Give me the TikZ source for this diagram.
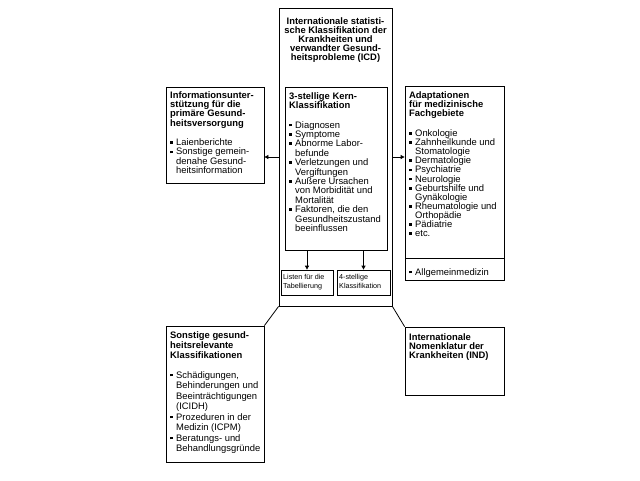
\documentclass[tikz,border=0pt]{standalone}
\usepackage{fontspec}
\setmainfont{Liberation Sans}
\usetikzlibrary{arrows.meta,positioning,calc}

\newcommand{\bitem}{\makebox[6pt][l]{\rule[1.6pt]{2.8pt}{2.8pt}}}
\newcommand{\bcont}{\hspace*{6pt}}

\tikzset{
  frame/.style={draw, line width=0.8pt, inner sep=0pt},
  head/.style={font=\fontsize{9.4}{9.2}\selectfont\bfseries, align=left, anchor=north west, inner sep=0pt},
  body/.style={font=\fontsize{9.4}{9.4}\selectfont, align=left, anchor=north west, inner sep=0pt},
  small/.style={font=\fontsize{7.2}{9}\selectfont, align=left, anchor=north west, inner sep=0pt},
  link/.style={line width=0.8pt, -{Triangle[length=4pt,width=4pt]}},
  plain/.style={line width=0.8pt},
}

\begin{document}
\begin{tikzpicture}[x=1pt, y=-1pt]
    \useasboundingbox (0,0) rectangle (640,480);

    % frames
    \node[frame, minimum width=113pt, minimum height=298pt] (icd) at (335.5,157) {};
    \node[frame, minimum width=102pt, minimum height=163pt] (kern) at (336,168.5) {};
    \node[frame, minimum width=52pt, minimum height=25pt] (liste) at (307,282.5) {};
    \node[frame, minimum width=53pt, minimum height=25pt] (vier) at (363.5,282.5) {};
    \node[frame, minimum width=98pt, minimum height=96pt] (info) at (215,135) {};
    \node[frame, minimum width=99pt, minimum height=194pt] (adapt) at (454.5,183) {};
    \node[frame, minimum width=98pt, minimum height=136pt] (sonst) at (215,394) {};
    \node[frame, minimum width=99pt, minimum height=68pt] (ind) at (454.5,361) {};
    \draw[plain] (405,258) -- (504,258);

    % ICD
    \node[head, align=center, anchor=north] (icdtitle) at (335.5,17)
        {Internationale statisti-\\sche Klassifikation der\\Krankheiten und\\verwandter Gesund-\\heitsprobleme (ICD)};
    \node[head] (kerntitle) at (289,92) {3-stellige Kern-\\Klassifikation};
    \node[body] (kernlist) at (289,121)
        {\bitem Diagnosen\\
         \bitem Symptome\\
         \bitem Abnorme Labor-\\
         \bcont befunde\\
         \bitem Verletzungen und\\
         \bcont Vergiftungen\\
         \bitem Außere Ursachen\\
         \bcont von Morbidität und\\
         \bcont Mortalität\\
         \bitem Faktoren, die den\\
         \bcont Gesundheitszustand\\
         \bcont beeinflussen};
    \node[small] (listetext) at (283,274) {Listen für die\\Tabellierung};
    \node[small] (viertext) at (339,274) {4-stellige\\Klassifikation};

    % left
    \node[head] (infotitle) at (170,91.5)
        {Informationsunter-\\stützung für die\\primäre Gesund-\\heitsversorgung};
    \node[body] (infolist) at (170,138.5)
        {\bitem Laienberichte\\
         \bitem Sonstige gemein-\\
         \bcont denahe Gesund-\\
         \bcont heitsinformation};

    % right
    \node[head] (adapttitle) at (409,91.5)
        {Adaptationen\\für medizinische\\Fachgebiete};
    \node[body, font=\fontsize{9.4}{9.1}\selectfont] (adaptlist) at (409,129.5)
        {\bitem Onkologie\\
         \bitem Zahnheilkunde und\\
         \bcont Stomatologie\\
         \bitem Dermatologie\\
         \bitem Psychiatrie\\
         \bitem Neurologie\\
         \bitem Geburtshilfe und\\
         \bcont Gynäkologie\\
         \bitem Rheumatologie und\\
         \bcont Orthopädie\\
         \bitem Pädiatrie\\
         \bitem etc.};
    \node[body] (allg) at (409,268) {\bitem Allgemeinmedizin};

    % bottom
    \node[head, font=\fontsize{9.4}{9.8}\selectfont\bfseries] (sonsttitle) at (170,331.5)
        {Sonstige gesund-\\heitsrelevante\\Klassifikationen};
    \node[body, font=\fontsize{9.4}{10.5}\selectfont] (sonstlist) at (170,371)
        {\bitem Schädigungen,\\
         \bcont Behinderungen und\\
         \bcont Beeinträchtigungen\\
         \bcont (ICIDH)\\
         \bitem Prozeduren in der\\
         \bcont Medizin (ICPM)\\
         \bitem Beratungs- und\\
         \bcont Behandlungsgründe};
    \node[head] (indtitle) at (409,333.5)
        {Internationale\\Nomenklatur der\\Krankheiten (IND)};

    % connectors
    \draw[link] (icd.west) -- (icd.west -| info.east);
    \draw[link] (icd.east) -- (icd.east -| adapt.west);
    \draw[link] (kern.south -| liste.north) -- (liste.north);
    \draw[link] (kern.south -| vier.north) -- (vier.north);
    \draw[plain] (icd.south west) -- (sonst.north east);
    \draw[plain] (icd.south east) -- (ind.north west);
\end{tikzpicture}
\end{document}
